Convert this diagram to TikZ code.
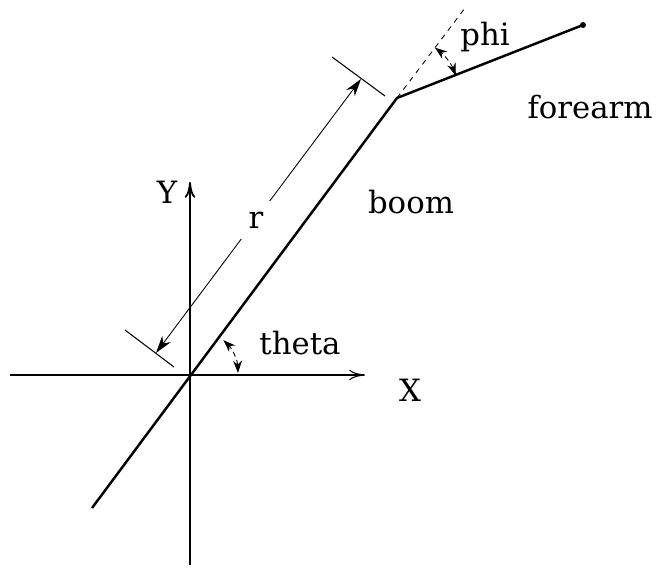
\documentclass[tikz,border=0pt]{standalone}
\usepackage{fontspec}
\setmainfont{DejaVu Serif}
\usetikzlibrary{arrows.meta,positioning}

\begin{document}
\begin{tikzpicture}[
    x=0.02cm, y=0.02cm,
    axis/.style={line width=0.6pt, -{To[length=9pt,width=6pt]}},
    arm/.style={line width=1.4pt},
    guide/.style={line width=0.5pt, dashed},
    dimline/.style={line width=0.5pt, {Stealth[length=10pt,width=6pt]}-{Stealth[length=10pt,width=6pt]}},
    angarrow/.style={line width=0.5pt, densely dashed, {Stealth[length=7pt,width=5pt]}-{Stealth[length=7pt,width=5pt]}},
    lbl/.style={font=\fontsize{17.5}{20}\selectfont, inner sep=0pt}
]
    \useasboundingbox (-190,-193) rectangle (477,375);

    % axes
    \coordinate (O) at (0,0);
    \coordinate (xl) at (-180,0);
    \coordinate (xr) at (175,0);
    \coordinate (yb) at (0,-190);
    \coordinate (yt) at (0,193);
    \draw[axis] (xl) -- (xr);
    \draw[axis, line width=1pt] (yb) -- (yt);
    \node[lbl] (xname) at (220,-15) {X};
    \node[lbl] (yname) at (-23,183) {Y};

    % boom and forearm
    \coordinate (base) at (-98,-133);
    \coordinate (elbow) at (207,277);
    \coordinate (ext) at (275,367);
    \coordinate (hand) at (393,350);
    \draw[arm] (base) -- (elbow) -- (hand);
    \fill (hand) circle (3);
    \draw[guide] (elbow) -- (ext);
    \node[lbl] (boomname) at (221,173) {boom};
    \node[lbl] (armname) at (400,268) {forearm};

    % dimension r
    \coordinate (e1a) at (-16,8);
    \coordinate (e1b) at (-65,45);
    \coordinate (e2a) at (195,279);
    \coordinate (e2b) at (142,318);
    \coordinate (d1) at (-34,22);
    \coordinate (d2) at (171,296);
    \draw[line width=0.6pt] (e1a) -- (e1b);
    \draw[line width=0.6pt] (e2a) -- (e2b);
    \draw[dimline] (d1) -- (d2);
    \node[lbl, fill=white, minimum width=17pt, minimum height=22pt] (rname) at (66,155) {r};

    % angles
    \draw[angarrow] (48,2) arc[start angle=2, end angle=46, radius=48];
    \node[lbl] (thetaname) at (110,32) {theta};
    \draw[angarrow] ([shift={(21:63)}]elbow) arc[start angle=21, end angle=53, radius=63];
    \node[lbl] (phiname) at (295,338) {phi};
\end{tikzpicture}
\end{document}
